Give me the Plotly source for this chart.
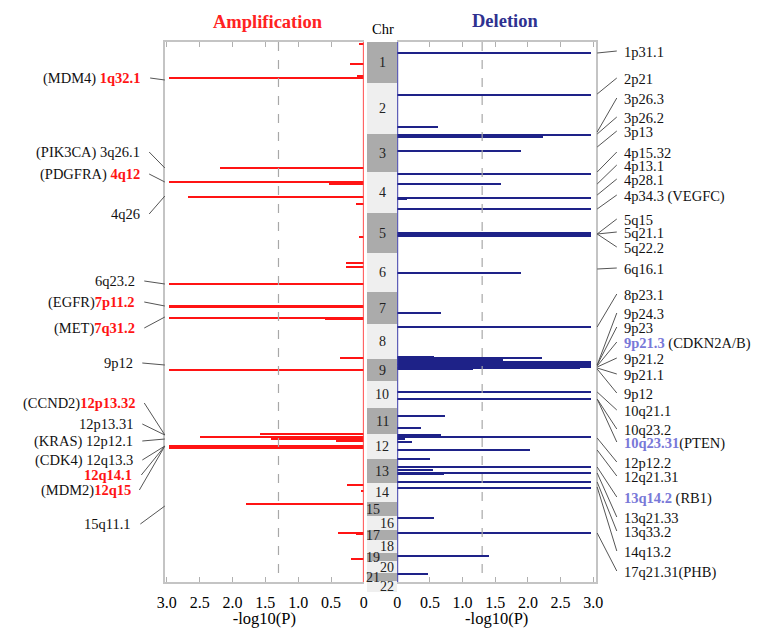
import plotly.graph_objects as go

W, H = 763, 628
SERIF = "Liberation Serif, Times New Roman, serif"
RED = "#ff1414"
NAVY = "#1e2288"
LABEL_BLUE = "#7878d8"

# ---------------- data ----------------
# genome track positions (top = 0)
chrom_names = [str(i) for i in range(1, 23)]
chrom_starts = [0, 41, 92, 130, 171, 211, 250, 282, 317, 339, 366, 392, 417,
                441, 460, 474, 488, 498, 511, 519, 531, 539]
chrom_end = 550

amp_pos = [2, 22, 34, 36, 126, 140, 142, 155, 162, 195, 221, 225, 242, 264, 265,
           276, 277, 316, 328, 392, 395, 397, 399, 404, 405, 406, 443, 449,
           462, 491, 492, 517]
amp_val = [0.08, 0.22, 0.10, 2.97, 2.19, 2.97, 0.54, 2.68, 0.12, 0.07, 0.28, 0.28,
           2.97, 2.97, 2.97, 2.97, 0.60, 0.37, 2.97, 1.58, 2.50, 1.42, 0.42, 2.97,
           2.08, 2.97, 0.26, 0.05, 1.80, 0.40, 0.12, 0.20]

del_pos = [11, 53, 85, 93, 95, 109, 132, 142, 156, 157, 167, 191, 193, 194, 231,
           271, 285, 315, 316, 318, 320, 322, 323, 325, 326, 327, 350, 357, 374,
           386, 393, 395, 397, 400, 408, 417, 425, 428, 431, 432, 440, 446, 476,
           491, 514, 532]
del_val = [2.97, 2.97, 0.63, 2.97, 2.23, 1.89, 2.97, 1.59, 2.97, 0.15, 2.97, 2.97,
           2.97, 2.97, 1.89, 0.67, 2.97, 0.57, 2.22, 1.62, 2.97, 2.97, 2.97, 2.97,
           2.80, 1.17, 2.97, 2.97, 0.73, 0.37, 0.68, 2.97, 0.12, 0.23, 2.04, 0.50,
           2.97, 0.55, 2.97, 0.72, 2.97, 2.97, 0.57, 2.97, 1.41, 0.48]

tick_vals = [0, 0.5, 1.0, 1.5, 2.0, 2.5, 3.0]
tick_text = ["0", "0.5", "1.0", "1.5", "2.0", "2.5", "3.0"]
threshold = 1.3

# left annotations: (prefix, cytoband, highlighted, label pos, bar pos)
amp_labels = [
    ("(MDM4) ", "1q32.1", True, 36, 38),
    ("(PIK3CA) ", "3q26.1", False, 110, 126),
    ("(PDGFRA) ", "4q12", True, 132, 140),
    ("", "4q26", False, 172, 154),
    ("", "6q23.2", False, 239, 242),
    ("(EGFR)", "7p11.2", True, 260, 264),
    ("(MET)", "7q31.2", True, 286, 275),
    ("", "9p12", False, 321, 323),
    ("(CCND2)", "12p13.32", True, 361, 393),
    ("", "12p13.31", False, 382, 393),
    ("(KRAS) ", "12p12.1", False, 399, 397),
    ("(CDK4) ", "12q13.3", False, 418, 404),
    ("", "12q14.1", True, 433, 404),
    ("(MDM2)", "12q15", True, 448, 404),
    ("", "15q11.1", False, 482, 464),
]
amp_label_right = [138, 137, 137, 137, 132, 132, 132, 130, 132, 130, 130, 130, 129, 127, 128]

# right annotations: (cytoband, suffix, highlighted, label pos, bar pos)
del_labels = [
    ("1p31.1", "", False, 10, 11),
    ("2p21", "", False, 37, 52),
    ("3p26.3", "", False, 57, 90),
    ("3p26.2", "", False, 76, 92),
    ("3p13", "", False, 90, 105),
    ("4p15.32", "", False, 111, 130),
    ("4p13.1", "", False, 124, 142),
    ("4p28.1", "", False, 138, 153),
    ("4p34.3", " (VEGFC)", False, 154, 167),
    ("5q15", "", False, 178, 192),
    ("5q21.1", "", False, 191, 192),
    ("5q22.2", "", False, 206, 192),
    ("6q16.1", "", False, 227, 227),
    ("8p23.1", "", False, 253, 285),
    ("9p24.3", "", False, 272, 323),
    ("9p23", "", False, 286, 323),
    ("9p21.3", " (CDKN2A/B)", True, 301, 324),
    ("9p21.2", "", False, 317, 325),
    ("9p21.1", "", False, 333, 326),
    ("9p12", "", False, 352, 327),
    ("10q21.1", "", False, 369, 350),
    ("10q23.2", "", False, 388, 357),
    ("10q23.31", "(PTEN)", True, 401, 357),
    ("12p12.2", "", False, 421, 396),
    ("12q21.31", "", False, 435, 408),
    ("13q14.2", " (RB1)", True, 456, 425),
    ("13q21.33", "", False, 476, 431),
    ("13q33.2", "", False, 490, 440),
    ("14q13.2", "", False, 510, 445),
    ("17q21.31", "(PHB)", False, 530, 491),
]

# ---------------- geometry helpers ----------------
def px(x):
    return x / W

def py(y):
    return 1 - y / H

TOP, BOT = 42, 582
BAND_BOT = 600
LABEL_SIZE = 14.5

fig = go.Figure()

fig.add_trace(go.Bar(x=amp_val, y=amp_pos, orientation="h", width=1.6,
                     marker=dict(color=RED, line=dict(width=0)),
                     xaxis="x", yaxis="y", hoverinfo="skip"))
fig.add_trace(go.Bar(x=del_val, y=del_pos, orientation="h", width=1.4,
                     marker=dict(color=NAVY, line=dict(width=0)),
                     xaxis="x3", yaxis="y3", hoverinfo="skip"))

chrom_len = [(chrom_starts[i + 1] if i + 1 < len(chrom_starts) else chrom_end) - s
             for i, s in enumerate(chrom_starts)]
band_colors = ["#ababab" if i % 2 == 0 else "#efefef" for i in range(len(chrom_names))]
fig.add_trace(go.Bar(x=[0.5] * len(chrom_names), y=chrom_len, base=chrom_starts,
                     width=1, marker=dict(color=band_colors, line=dict(width=0)),
                     xaxis="x2", yaxis="y2", hoverinfo="skip"))

# chromosome numbers
for i, name in enumerate(chrom_names):
    centre = chrom_starts[i] + chrom_len[i] / 2
    shift = 0
    if i >= 14:
        shift = -9 if i % 2 == 0 else 5
    fig.add_annotation(x=0.5, y=centre, xref="x2", yref="y2", text=name,
                       showarrow=False, xshift=shift, xanchor="center", yanchor="middle",
                       font=dict(family=SERIF, size=14, color="#222"))

axis_common = dict(tickvals=tick_vals, ticktext=tick_text, ticks="inside", ticklen=5,
                   tickcolor="#b0b0b0", showline=True, linecolor="#c4c4c4",
                   linewidth=1.5, mirror="ticks", showgrid=False, zeroline=False,
                   tickfont=dict(family=SERIF, size=16, color="black"),
                   ticklabelstandoff=5,
                   title=dict(text="-log10(P)", standoff=1,
                              font=dict(family=SERIF, size=16.5, color="black")))

fig.update_layout(
    width=W, height=H, margin=dict(l=0, r=0, t=0, b=0),
    paper_bgcolor="white", plot_bgcolor="white", showlegend=False,
    barmode="overlay", bargap=0, hovermode=False,
    xaxis=dict(domain=[px(160), px(363)], range=[3.03, 0], anchor="y", **axis_common),
    yaxis=dict(domain=[py(BOT), py(TOP)], range=[540, 0], anchor="x",
               showticklabels=False, ticks="", showline=True, linecolor="#c4c4c4",
               linewidth=1.5, showgrid=False, zeroline=False),
    xaxis2=dict(domain=[px(366), px(397)], range=[0, 1], anchor="y2", visible=False),
    yaxis2=dict(domain=[py(BAND_BOT), py(TOP)], range=[558, 0], anchor="x2",
                visible=False),
    xaxis3=dict(domain=[px(397), px(600)], range=[0, 3.045], anchor="y3", **axis_common),
    yaxis3=dict(domain=[py(BOT), py(TOP)], range=[540, 0], anchor="x3", side="right",
                showticklabels=False, ticks="", showline=True, linecolor="#c4c4c4",
                linewidth=1.5, showgrid=False, zeroline=False),
)

# threshold lines and zero lines
for xr, yr in (("x", "y"), ("x3", "y3")):
    fig.add_shape(type="line", xref=xr, yref=yr, x0=threshold, x1=threshold,
                  y0=0, y1=540, line=dict(color="#a8a8a8", width=1.2, dash="dash"))
fig.add_shape(type="line", xref="x", yref="y", x0=0, x1=0, y0=0, y1=540,
              line=dict(color="#ff4d4d", width=2))
fig.add_shape(type="line", xref="x3", yref="y3", x0=0, x1=0, y0=0, y1=540,
              line=dict(color="#3a3aa8", width=2))

# titles
fig.add_annotation(x=px(265), y=py(22), xref="paper", yref="paper", showarrow=False,
                   xanchor="center", yanchor="middle",
                   text="<b>Amplification</b>",
                   font=dict(family=SERIF, size=18.5, color="#ff2222"))
fig.add_annotation(x=px(507), y=py(21), xref="paper", yref="paper", showarrow=False,
                   xanchor="center", yanchor="middle",
                   text="<b>Deletion</b>",
                   font=dict(family=SERIF, size=18.5, color="#2e3190"))
fig.add_annotation(x=px(383), y=py(29), xref="paper", yref="paper", showarrow=False,
                   xanchor="center", yanchor="middle",
                   text="Chr", font=dict(family=SERIF, size=14.5, color="black"))

# left labels
for (pre, band, hi, lpos, bpos), rx in zip(amp_labels, amp_label_right):
    band_txt = f'<span style="color:{RED}"><b>{band}</b></span>' if hi else band
    fig.add_annotation(x=px(rx), y=lpos, xref="paper", yref="y", xanchor="right",
                       yanchor="middle", showarrow=False, text=pre + band_txt,
                       font=dict(family=SERIF, size=LABEL_SIZE, color="#111"))
    fig.add_shape(type="line", xref="paper", yref="y", x0=px(rx + 7), x1=px(160),
                  y0=lpos, y1=bpos, line=dict(color="#555", width=1))

# right labels
for band, suf, hi, lpos, bpos in del_labels:
    band_txt = f'<span style="color:{LABEL_BLUE}"><b>{band}</b></span>' if hi else band
    fig.add_annotation(x=px(626), y=lpos, xref="paper", yref="y3", xanchor="left",
                       yanchor="middle", showarrow=False, text=band_txt + suf,
                       font=dict(family=SERIF, size=LABEL_SIZE, color="#111"))
    fig.add_shape(type="line", xref="paper", yref="y3", x0=px(601), x1=px(621),
                  y0=bpos, y1=lpos - 1, line=dict(color="#555", width=1))

fig.write_html("out.html", config={"displayModeBar": False},
               post_script="document.body.style.margin='0px';")
